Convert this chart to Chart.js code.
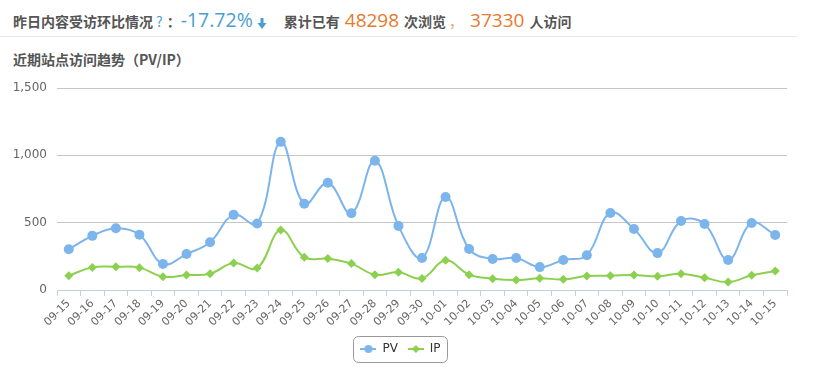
<!DOCTYPE html>
<html>
<head>
<meta charset="utf-8">
<script src="https://cdn.jsdelivr.net/npm/chart.js@4.4.1/dist/chart.umd.min.js"></script>
<style>
    body {
        margin: 0;
        width: 817px;
        height: 377px;
        background: #fff;
        position: relative;
        overflow: hidden;
        font-family: "Noto Sans CJK SC", sans-serif;
    }
    .summary {
        position: absolute;
        left: 0;
        top: 0;
        width: 797px;
        height: 37px;
        border-bottom: 1px solid #e8e8e8;
        padding-left: 13px;
        box-sizing: border-box;
        white-space: nowrap;
        display: flex;
        align-items: baseline;
        padding-top: 6px;
    }
    .summary b { font-size: 14px; color: #555; }
    .summary .q { font-size: 14px; color: #4a9ecf; margin-left: 3px; }
    .summary .colon { margin-left: 4px; }
    .summary .num { font-family: "Open Sans", sans-serif; font-size: 19px; }
    .summary .rate { color: #4a9ecf; font-size: 19.5px; }
    .cnt { color: #e8792d; margin: 0 5px; }
    .cnt.second { margin-left: 0; }
    .arrow { margin-left: 4px; margin-right: 17px; align-self: center; margin-top: 4px; }
    .comma { font-size: 14px; color: #e8a070; margin: 0 7px 0 3px; }
    .title {
        position: absolute;
        left: 13px;
        top: 49px;
        font-size: 14px;
        line-height: 20px;
        font-weight: bold;
        color: #555;
    }
    #wrap {
        position: absolute;
        left: 0;
        top: 70px;
        width: 800px;
        height: 307px;
    }
</style>
</head>
<body>
<div class="summary">
    <b>昨日内容受访环比情况</b><span class="q">?</span><b class="colon">：</b><span class="num rate">-17.72%</span>
    <svg class="arrow" width="10" height="11" viewBox="0 0 10 11"><path d="M3.5 0h3v5h3l-4.5 6-4.5-6h3z" fill="#4a9ecf"/></svg>
    <b>累计已有</b><span class="num cnt">48298</span><b>次浏览</b><span class="comma">，</span><span class="num cnt second">37330</span><b>人访问</b>
</div>
<div class="title">近期站点访问趋势（PV/IP）</div>
<div id="wrap"><canvas id="myChart"></canvas></div>

<script>
    const days = ['09-15', '09-16', '09-17', '09-18', '09-19', '09-20', '09-21', '09-22', '09-23', '09-24',
        '09-25', '09-26', '09-27', '09-28', '09-29', '09-30', '10-01', '10-02', '10-03', '10-04',
        '10-05', '10-06', '10-07', '10-08', '10-09', '10-10', '10-11', '10-12', '10-13', '10-14', '10-15'];
    const pv = [302, 402, 458, 410, 193, 267, 355, 558, 494, 1100,
        640, 796, 570, 960, 476, 238, 690, 304, 230, 238,
        170, 223, 258, 572, 453, 274, 512, 490, 223, 497, 408];
    const ip = [106, 168, 172, 166, 99, 111, 121, 200, 163, 445,
        243, 233, 196, 114, 131, 86, 220, 114, 84, 74,
        87, 79, 104, 106, 111, 102, 121, 91, 59, 109, 141];
    const yTicks = [0, 500, 1000, 1500];

    const blue = '#7cb5ec';
    const green = '#8cd050';

    // little line + marker pictures for the legend
    function legendMark(color, shape) {
        let c = document.createElement('canvas');
        c.width = 16;
        c.height = 10;
        let g = c.getContext('2d');
        g.strokeStyle = color;
        g.lineWidth = 2;
        g.beginPath();
        g.moveTo(0, 5);
        g.lineTo(16, 5);
        g.stroke();
        g.fillStyle = color;
        g.beginPath();
        if (shape == 'circle') {
            g.arc(8, 5, 4, 0, Math.PI * 2);
        } else {
            g.moveTo(8, 1);
            g.lineTo(12, 5);
            g.lineTo(8, 9);
            g.lineTo(4, 5);
            g.closePath();
        }
        g.fill();
        return c;
    }
    const marks = [legendMark(blue, 'circle'), legendMark(green, 'diamond')];

    const legendBox = {
        id: 'legendBox',
        afterDraw(chart) {
            let boxes = chart.legend.legendHitBoxes;
            if (!boxes || !boxes.length) return;
            let first = boxes[0];
            let last = boxes[boxes.length - 1];
            let x = first.left - 7;
            let w = last.left + last.width + 7 - x;
            let y = first.top - 7;
            let h = first.height + 14;
            let ctx = chart.ctx;
            ctx.save();
            ctx.strokeStyle = '#999';
            ctx.lineWidth = 1;
            ctx.beginPath();
            ctx.roundRect(Math.round(x) + 0.5, Math.round(y) + 0.5, Math.round(w), Math.round(h), 5);
            ctx.stroke();
            ctx.restore();
        }
    };

    Chart.defaults.font.family = '"DejaVu Sans", Verdana, sans-serif';
    Chart.defaults.color = '#666';

    const ctx = document.getElementById('myChart').getContext('2d');
    const myChart = new Chart(ctx, {
        type: 'line',
        data: {
            labels: days,
            datasets: [{
                label: 'PV',
                data: pv,
                borderColor: blue,
                backgroundColor: blue,
                borderWidth: 2,
                tension: 0.4,
                pointStyle: 'circle',
                pointRadius: 5,
                pointBorderWidth: 0
            }, {
                label: 'IP',
                data: ip,
                borderColor: green,
                backgroundColor: green,
                borderWidth: 2,
                tension: 0.4,
                pointStyle: 'rectRot',
                pointRadius: 4.5,
                pointBorderWidth: 0
            }]
        },
        options: {
            responsive: true,
            maintainAspectRatio: false,
            animation: false,
            layout: {
                // left and right kept even so the legend sits in the middle
                padding: { top: 18, right: 13, bottom: 12, left: 14 }
            },
            scales: {
                x: {
                    offset: true,
                    grid: {
                        offset: true,
                        drawOnChartArea: false,
                        drawTicks: true,
                        tickLength: 6,
                        color: '#c0d0e0'
                    },
                    border: { color: '#c0d0e0' },
                    ticks: {
                        autoSkip: false,
                        minRotation: 45,
                        maxRotation: 45,
                        padding: 1,
                        color: '#666',
                        font: { size: 11 }
                    },
                    afterFit: s => { s.height = 43; }
                },
                y: {
                    min: 0,
                    max: 1500,
                    afterBuildTicks: s => { s.ticks = yTicks.map(v => ({ value: v })); },
                    grid: { color: '#c6c6c6', drawTicks: false },
                    border: { display: false },
                    ticks: {
                        padding: 10,
                        color: '#666',
                        font: { size: 12 },
                        callback: v => v.toLocaleString('en-US')
                    },
                    afterFit: s => { s.width = 43; }
                }
            },
            plugins: {
                legend: {
                    position: 'bottom',
                    labels: {
                        usePointStyle: true,
                        pointStyleWidth: 16,
                        padding: 10,
                        color: '#333',
                        font: { size: 12 },
                        generateLabels: chart => chart.data.datasets.map((ds, i) => ({
                            text: ds.label,
                            pointStyle: marks[i],
                            fontColor: '#333',
                            fillStyle: 'transparent',
                            strokeStyle: 'transparent',
                            lineWidth: 0,
                            hidden: false,
                            datasetIndex: i
                        }))
                    }
                },
                tooltip: { enabled: false }
            }
        },
        plugins: [legendBox]
    });
</script>
</body>
</html>
